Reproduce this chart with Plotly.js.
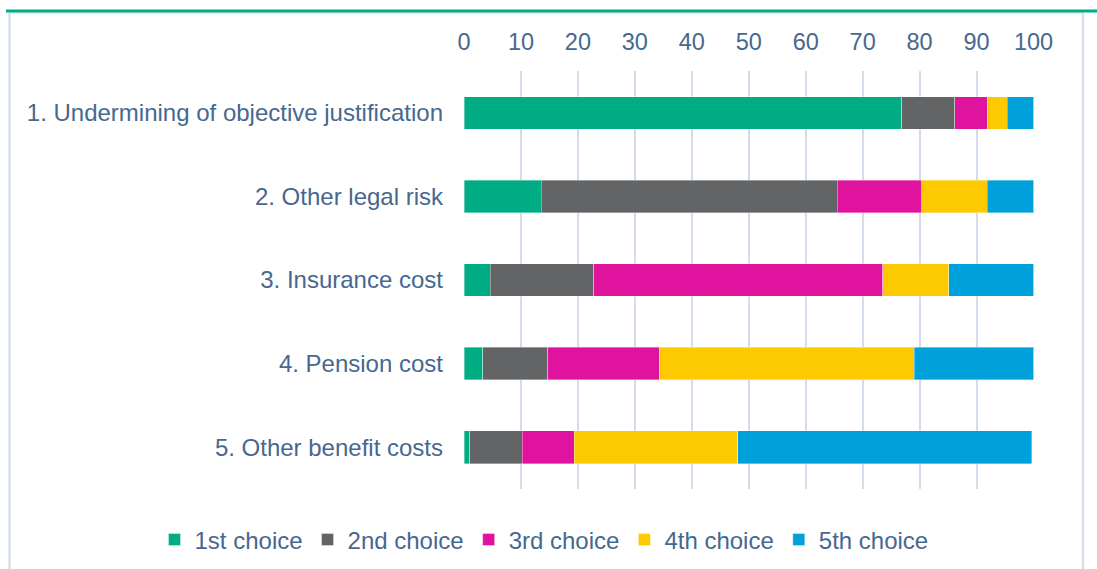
<!DOCTYPE html>
<html>
<head>
<meta charset="utf-8">
<script src="https://cdn.plot.ly/plotly-3.0.1.min.js"></script>
<style>
  html, body { margin: 0; padding: 0; background: #ffffff; }
  #chart { width: 1097px; height: 569px; }
</style>
</head>
<body>
<div id="chart"></div>
<script>
// ---- Data ----
const categories = [
  "1. Undermining of objective justification",
  "2. Other legal risk",
  "3. Insurance cost",
  "4. Pension cost",
  "5. Other benefit costs"
];
const seriesNames = ["1st choice", "2nd choice", "3rd choice", "4th choice", "5th choice"];
const choice1 = [76.9, 13.6, 4.6, 3.3, 1.0];
const choice2 = [9.3, 51.9, 18.2, 11.4, 9.2];
const choice3 = [5.7, 14.9, 50.7, 19.6, 9.2];
const choice4 = [3.5, 11.5, 11.6, 44.8, 28.7];
const choice5 = [4.6, 8.1, 14.9, 20.9, 51.6];
const xTicks = [0, 10, 20, 30, 40, 50, 60, 70, 80, 90, 100];

// ---- Styles ----
const colors = ["#00AC83", "#636466", "#E0139F", "#FDC900", "#00A0DA"];
const textColor = "#46688F";
const gridColor = "#D3DDE9";
const fontFamily = "Liberation Sans, Arial, sans-serif";

const W = 1097, H = 569;
const M = { l: 0, r: 0, t: 70.5, b: 80 };
const ph = H - M.t - M.b;
const px = x => x / W;
const py = y => (H - M.b - y) / ph;

const values = [choice1, choice2, choice3, choice4, choice5];
const traces = values.map((v, i) => ({
  type: "bar",
  orientation: "h",
  name: seriesNames[i],
  y: categories,
  x: v,
  marker: { color: colors[i], line: { color: "rgba(255,255,255,0.45)", width: 0.8 } },
  hoverinfo: "x+name"
}));

const layout = {
  width: W, height: H,
  margin: M,
  paper_bgcolor: "#ffffff",
  plot_bgcolor: "#ffffff",
  barmode: "stack",
  bargap: 0.61,
  font: { family: fontFamily, color: textColor, size: 22 },
  showlegend: true,
  legend: {
    orientation: "h",
    xref: "paper", yref: "paper",
    x: px(544), y: py(540), xanchor: "center", yanchor: "middle",
    font: { family: fontFamily, size: 24, color: textColor },
    itemgap: 7,
    traceorder: "normal"
  },
  xaxis: {
    domain: [px(464), px(1033.5)],
    side: "top",
    range: [0, 100],
    tickvals: xTicks,
    ticktext: xTicks.map(String),
    showgrid: true, gridcolor: gridColor, gridwidth: 2,
    zeroline: false,
    showline: false,
    ticks: "",
    ticklabelstandoff: 15,
    tickfont: { family: fontFamily, size: 23.5, color: textColor },
    fixedrange: true
  },
  yaxis: {
    autorange: "reversed",
    type: "category",
    showgrid: false, zeroline: false, showline: false,
    ticks: "",
    ticklabelstandoff: 20,
    tickfont: { family: fontFamily, size: 24, color: textColor },
    fixedrange: true
  },
  shapes: [
    { type: "line", xref: "paper", yref: "paper", x0: px(9.5), x1: px(1083), y0: py(12.5), y1: py(12.5), line: { color: "#DDE4EE", width: 1.5 } },
    { type: "line", xref: "paper", yref: "paper", x0: px(9.5), x1: px(9.5), y0: py(12), y1: py(575), line: { color: "#D6DFEB", width: 2.5 } },
    { type: "line", xref: "paper", yref: "paper", x0: px(1083), x1: px(1083), y0: py(12), y1: py(575), line: { color: "#D6DFEB", width: 2.5 } },
    { type: "line", xref: "paper", yref: "paper", x0: px(6), x1: px(1100), y0: py(10.5), y1: py(10.5), line: { color: "#00AC83", width: 3 } }
  ]
};

Plotly.newPlot("chart", traces, layout, { displayModeBar: false, staticPlot: true });
</script>
</body>
</html>
